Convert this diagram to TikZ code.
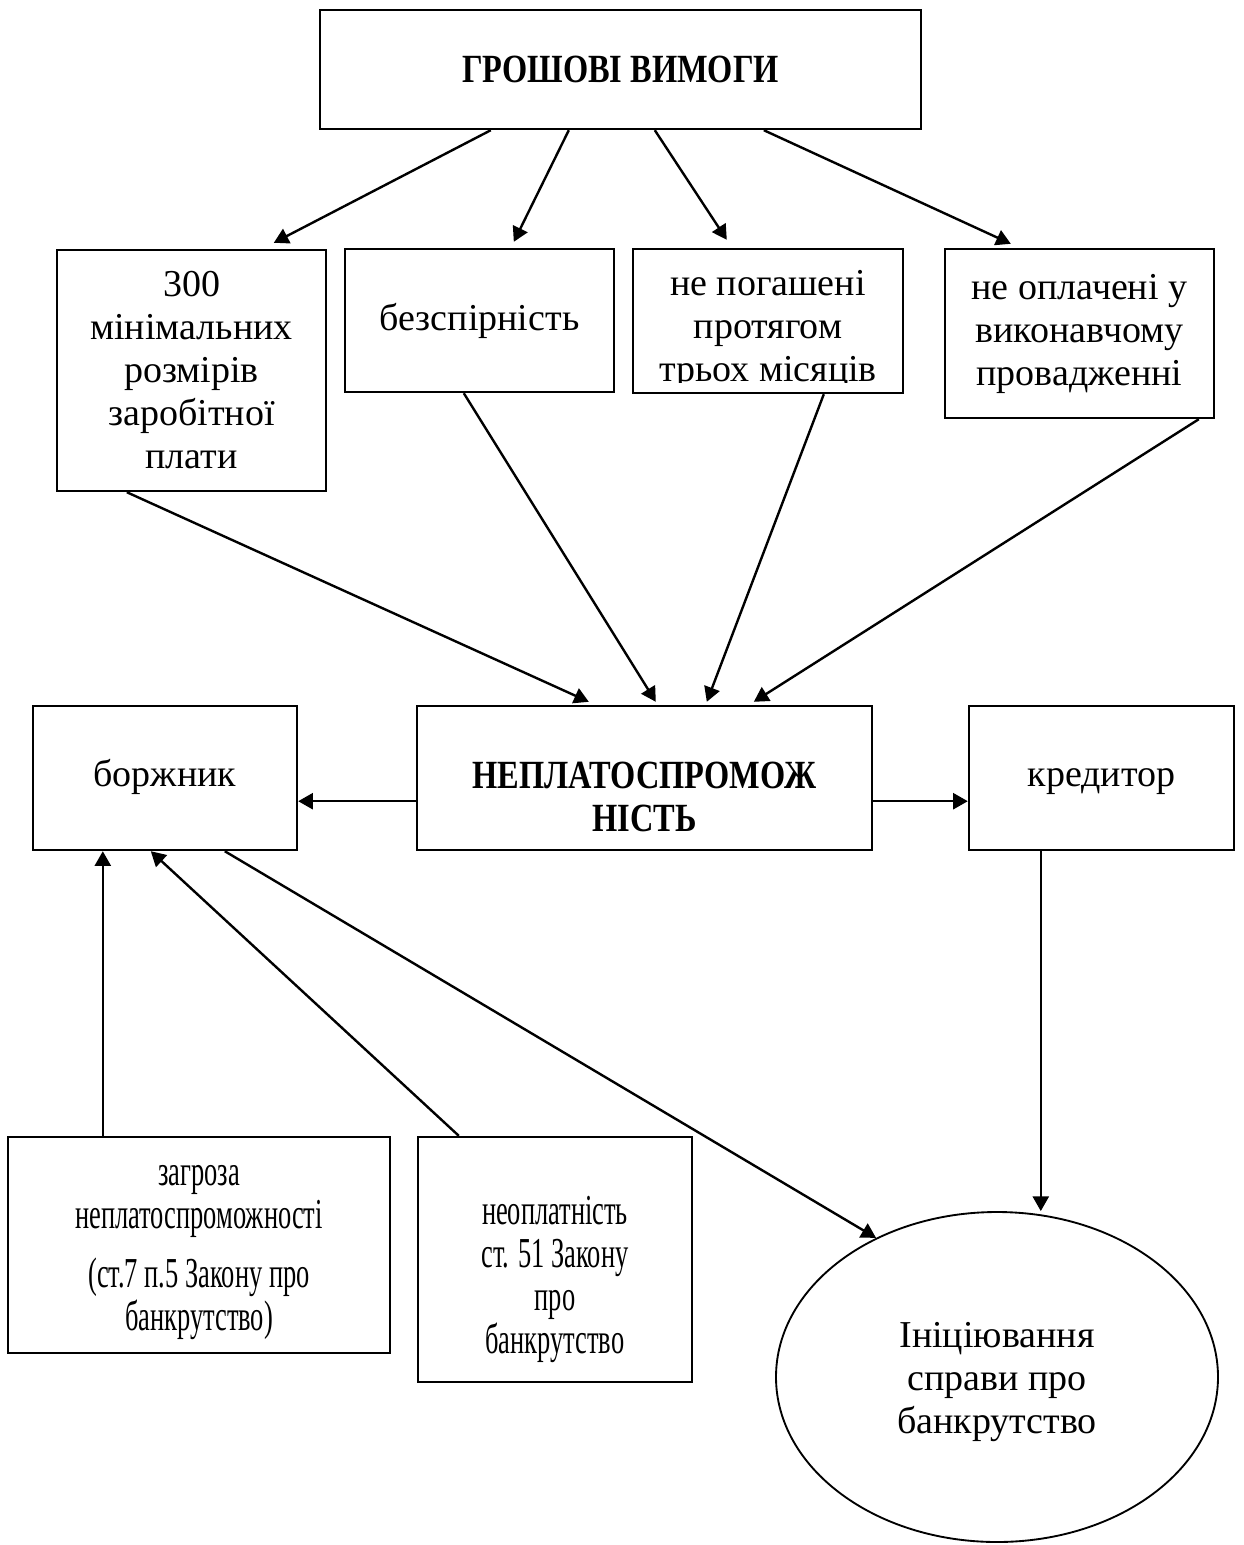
\documentclass[tikz,border=0pt]{standalone}
\usepackage{fontspec}
\setmainfont{Liberation Serif}
\newfontfamily\narrowfont[FakeStretch=0.62]{Liberation Serif}
\newfontfamily\boldnarrow[FakeStretch=0.81]{Liberation Serif}
\usetikzlibrary{calc,arrows.meta,shapes.geometric}
\begin{document}
\begin{tikzpicture}[x=0.75pt,y=-0.75pt,
  txt/.style={inner sep=0pt, align=center, font=\fontsize{28.5}{32.25}\selectfont},
  box/.style={draw, line width=1.8pt, inner sep=0pt, align=center, font=\fontsize{28.5}{32.25}\selectfont},
  boldtxt/.style={inner sep=0pt, align=center, font=\boldnarrow\bfseries\fontsize{30}{32.25}\selectfont},
  narrowtxt/.style={inner sep=0pt, align=center, font=\narrowfont\fontsize{32}{32.25}\selectfont},
  arr/.style={-{Triangle[length=11pt,width=12pt]}, line width=1.8pt}]
\useasboundingbox (0,0) rectangle (1243,1545);
% top
\node[box, minimum width=450.75pt, minimum height=89.25pt] (top) at (620.5,69.5) {};
\node[boldtxt] (topt) at (620.5,69.5) {ГРОШОВІ ВИМОГИ};
% second row
\node[box, minimum width=201.75pt, minimum height=180.75pt] (b1) at (191.5,370.5) {300\\мінімальних\\розмірів\\заробітної\\плати};
\node[box, minimum width=201.75pt, minimum height=107.25pt] (b2) at (479.5,320.5) {безспірність};
\node[box, minimum width=202.5pt, minimum height=108pt] (b3) at (768,321) {};
\begin{scope}
\clip (b3.north west) rectangle ($(b3.south east)+(0,-12)$);
\node[txt] (b3t) at (768,330) {не погашені\\протягом\\трьох місяців};
\end{scope}
\node[box, minimum width=201.75pt, minimum height=126.75pt] (b4) at (1079.5,333.5) {не оплачені у\\виконавчому\\провадженні};
% middle row
\node[box, minimum width=341.25pt, minimum height=108pt] (mid) at (644.5,778) {};
\node[boldtxt] (midt) at (644.5,797) {НЕПЛАТОСПРОМОЖ\\НІСТЬ};
\node[box, minimum width=198pt, minimum height=108pt] (borzh) at (165,778) {боржник\strut};
\node[box, minimum width=198.75pt, minimum height=108pt] (kred) at (1101.5,778) {кредитор\strut};
% bottom
\node[box, minimum width=286.5pt, minimum height=162pt] (zagr) at (199,1245) {};
\node[narrowtxt] (zagrt) at (199,1253) {загроза\\неплатоспроможності\\[12pt](ст.7 п.5 Закону про\\банкрутство)};
\node[box, minimum width=205.5pt, minimum height=183.75pt] (neopl) at (555,1259.5) {};
\node[narrowtxt] (neoplt) at (555,1279) {неоплатність\\ст. 51 Закону\\про\\банкрутство};
\node[draw, ellipse, line width=1.4pt, inner sep=0pt, minimum width=331.5pt, minimum height=247.5pt] (ell) at (997,1377) {};
\node[txt] (ellt) at (997,1382) {Ініціювання\\справи про\\банкрутство};
% arrows top -> row 2
\draw[arr] ($(top.south west)+(172,0)$) -- ($(b1.north west)+(218,-6)$);
\draw[arr] ($(top.south west)+(250,0)$) -- ($(b2.north west)+(170,-6)$);
\draw[arr] ($(top.south west)+(336,0)$) -- ($(b3.north west)+(95,-8)$);
\draw[arr] ($(top.south west)+(445,0)$) -- ($(b4.north west)+(67,-4)$);
% row 2 -> middle
\draw[arr] ($(b1.south west)+(71,0)$) -- ($(mid.north west)+(173,-3)$);
\draw[arr] ($(b2.south west)+(120,0)$) -- ($(mid.north west)+(240,-3)$);
\draw[arr] ($(b3.south west)+(192,0)$) -- ($(mid.north west)+(291,-3)$);
\draw[arr] ($(b4.south west)+(255,0)$) -- ($(mid.north west)+(338,-3)$);
% middle -> sides
\draw[arr] ($(mid.south west)+(0,-50)$) -- ($(borzh.south east)+(0,-50)$);
\draw[arr] ($(mid.south east)+(0,-50)$) -- ($(kred.south west)+(0,-50)$);
% to ellipse
\draw[arr] ($(borzh.south west)+(193,0)$) -- (ell.131);
\coordinate (k1) at ($(kred.south west)+(73,0)$);
\draw[arr] (k1) -- (k1 |- ell.north);
% bottom -> borzhnyk
\draw[arr] ($(zagr.north west)+(96,0)$) -- ($(borzh.south west)+(71,0)$);
\draw[arr] ($(neopl.north west)+(42,0)$) -- ($(borzh.south west)+(119,0)$);
\end{tikzpicture}
\end{document}
